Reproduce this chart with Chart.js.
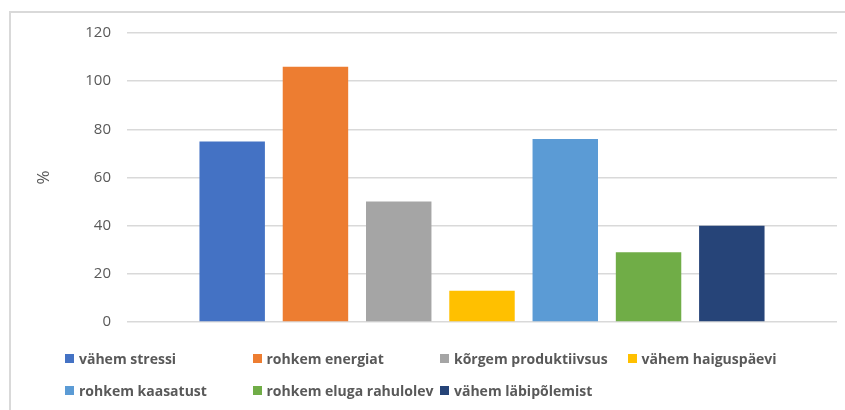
<!DOCTYPE html>
<html>
<head>
<meta charset="utf-8">
<script src="https://cdn.jsdelivr.net/npm/chart.js@4"></script>
<style>
    html, body { margin: 0; padding: 0; background: #fff; }
    #wrap { position: relative; width: 845px; height: 410px; overflow: hidden; }
    #frame { position: absolute; left: 9px; top: 11px; width: 900px; height: 500px; border: 2px solid #d9d9d9; box-sizing: border-box; }
    #chart { position: absolute; left: 0; top: 0; }
    #legend { position: absolute; left: 65px; top: 347px; display: grid; grid-template-columns: repeat(4, 187.5px); row-gap: 10px;
              font-family: "Open Sans", sans-serif; font-weight: bold; font-size: 14px; color: #595959; }
    .item { display: flex; align-items: center; height: 22px; white-space: nowrap; }
    .box { width: 9px; height: 9px; margin-right: 5px; }
</style>
</head>
<body>
<div id="wrap">
    <div id="frame"></div>
    <canvas id="chart" width="845" height="410"></canvas>
    <div id="legend"></div>
</div>
<script>
// Dữ liệu biểu đồ
const categories = [''];
const seriesNames = ['vähem stressi', 'rohkem energiat', 'kõrgem produktiivsus', 'vähem haiguspäevi',
                     'rohkem kaasatust', 'rohkem eluga rahulolev', 'vähem läbipõlemist'];
const seriesValues = [75, 106, 50, 13, 76, 29, 40];
const seriesColors = ['#4472C4', '#ED7D31', '#A5A5A5', '#FFC000', '#5B9BD5', '#70AD47', '#264478'];
const yTicks = [0, 20, 40, 60, 80, 100, 120];

document.addEventListener("DOMContentLoaded", function () {
    const datasets = seriesNames.map(function (name, i) {
        return {
            label: name,
            data: [seriesValues[i]],
            backgroundColor: seriesColors[i],
            categoryPercentage: 0.821,
            barPercentage: 0.786
        };
    });

    const ctx = document.getElementById('chart').getContext('2d');
    const chart = new Chart(ctx, {
        type: 'bar',
        data: { labels: categories, datasets: datasets },
        options: {
            responsive: false,
            animation: false,
            layout: { padding: { left: 30, top: 33, right: 8, bottom: 88 } },
            plugins: { legend: { display: false }, tooltip: { enabled: false } },
            scales: {
                x: { display: false },
                y: {
                    min: 0, max: 120,
                    afterFit: function (scale) { scale.width = 97; },
                    afterBuildTicks: function (scale) { scale.ticks = yTicks.map(function (v) { return { value: v }; }); },
                    grid: { color: '#d9d9d9', lineWidth: 1.5, drawTicks: false },
                    border: { display: false },
                    ticks: { padding: 16, color: '#595959', font: { family: 'Open Sans', size: 15 } },
                    title: { display: true, text: '%', color: '#595959', font: { family: 'Open Sans', size: 17 }, padding: { top: 4 } }
                }
            }
        }
    });

    // Chú thích dạng lưới, lấy từ datasets của biểu đồ
    const legend = document.getElementById('legend');
    chart.data.datasets.forEach(function (ds) {
        const item = document.createElement('div');
        item.className = 'item';
        const box = document.createElement('span');
        box.className = 'box';
        box.style.background = ds.backgroundColor;
        item.appendChild(box);
        item.appendChild(document.createTextNode(ds.label));
        legend.appendChild(item);
    });
});
</script>
</body>
</html>
